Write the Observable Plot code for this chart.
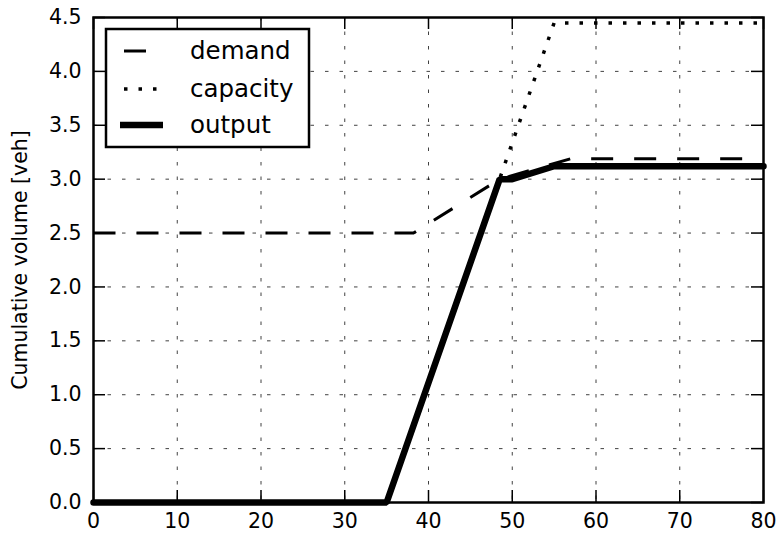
<!DOCTYPE html>
<html>
<head>
<meta charset="utf-8">
<script src="https://cdn.jsdelivr.net/npm/d3@7"></script>
<script src="https://cdn.jsdelivr.net/npm/@observablehq/plot@0.6"></script>
<style>
  html, body { margin: 0; padding: 0; background: white; }
</style>
</head>
<body>
<div id="chart"></div>
<script>
// Data
const demandX = [0, 38.2, 48.5, 57, 80];
const demandY = [2.5, 2.5, 3.0, 3.19, 3.19];
const capacityX = [0, 35, 55, 80];
const capacityY = [0, 0, 4.45, 4.45];
const outputX = [0, 35, 48.5, 50, 55, 80];
const outputY = [0, 0, 3.0, 3.0, 3.12, 3.12];
const xTicks = [0, 10, 20, 30, 40, 50, 60, 70, 80];
const yTicks = [0, 0.5, 1.0, 1.5, 2.0, 2.5, 3.0, 3.5, 4.0, 4.5];
const yLabel = "Cumulative volume [veh]";
const seriesNames = ["demand", "capacity", "output"];

const toRows = (xs, ys) => xs.map((x, i) => ({x, y: ys[i]}));
const demand = toRows(demandX, demandY);
const capacity = toRows(capacityX, capacityY);
const output = toRows(outputX, outputY);

const W = 781, H = 538;
const mL = 93, mR = 18, mT = 17, mB = 36;
const innerW = W - mL - mR, innerH = H - mT - mB;
const tickLen = 12;

const chart = Plot.plot({
  width: W,
  height: H,
  marginLeft: mL,
  marginRight: mR,
  marginTop: mT,
  marginBottom: mB,
  style: {fontFamily: "DejaVu Sans", fontSize: "20.5px", background: "white", color: "black"},
  x: {domain: [0, 80], ticks: xTicks, tickSize: 0, tickPadding: 11, tickFormat: d3.format("d"), label: null},
  y: {domain: [0, 4.5], ticks: yTicks, tickSize: 0, tickPadding: 12, tickFormat: d3.format(".1f"), label: null},
  marks: [
    Plot.ruleX(xTicks, {x: d => d, stroke: "black", strokeOpacity: 0.75, strokeWidth: 1, strokeDasharray: "3.5,11"}),
    Plot.ruleY(yTicks, {y: d => d, stroke: "black", strokeOpacity: 0.75, strokeWidth: 1, strokeDasharray: "3.5,11"}),
    Plot.line(demand, {x: "x", y: "y", stroke: "black", strokeWidth: 3, strokeDasharray: "22,21", strokeLinecap: "butt"}),
    Plot.line(capacity, {x: "x", y: "y", stroke: "black", strokeWidth: 3.5, strokeDasharray: "3.5,11", strokeLinecap: "butt"}),
    Plot.line(output, {x: "x", y: "y", stroke: "black", strokeWidth: 6.5, strokeLinejoin: "miter"}),
    Plot.frame({stroke: "black", strokeWidth: 2.5}),
    // inward ticks on all four sides
    Plot.ruleX(xTicks, {x: d => d, stroke: "black", strokeWidth: 1.5, insetTop: innerH - tickLen}),
    Plot.ruleX(xTicks, {x: d => d, stroke: "black", strokeWidth: 1.5, insetBottom: innerH - tickLen}),
    Plot.ruleY(yTicks, {y: d => d, stroke: "black", strokeWidth: 1.5, insetRight: innerW - tickLen}),
    Plot.ruleY(yTicks, {y: d => d, stroke: "black", strokeWidth: 1.5, insetLeft: innerW - tickLen}),
    Plot.text([yLabel], {text: d => d, frameAnchor: "left", textAnchor: "middle", lineAnchor: "middle", dx: -73, rotate: -90, fontSize: 20.5, fill: "black"})
  ]
});

// Legend box inside the plot area
const svg = d3.select(chart);
const lg = svg.append("g").attr("font-family", "DejaVu Sans").attr("font-size", 24.5)
  .attr("text-anchor", "start");
lg.append("rect").attr("x", 106).attr("y", 29).attr("width", 203).attr("height", 118)
  .attr("fill", "white").attr("stroke", "black").attr("stroke-width", 2.5);
const rows = [
  {name: seriesNames[0], dash: "22,21", sw: 3, x1: 124, x2: 146, y: 51},
  {name: seriesNames[1], dash: "3.5,11", sw: 3.5, x1: 124, x2: 160, y: 89},
  {name: seriesNames[2], dash: null, sw: 6.5, x1: 120, x2: 163, y: 125}
];
rows.forEach(r => {
  lg.append("line").attr("x1", r.x1).attr("x2", r.x2).attr("y1", r.y).attr("y2", r.y)
    .attr("stroke", "black").attr("stroke-width", r.sw).attr("stroke-linecap", "butt")
    .attr("stroke-dasharray", r.dash);
  lg.append("text").attr("x", 190).attr("y", r.y + 8).attr("fill", "black")
    .attr("text-anchor", "start").text(r.name);
});

document.getElementById("chart").appendChild(chart);
</script>
</body>
</html>
